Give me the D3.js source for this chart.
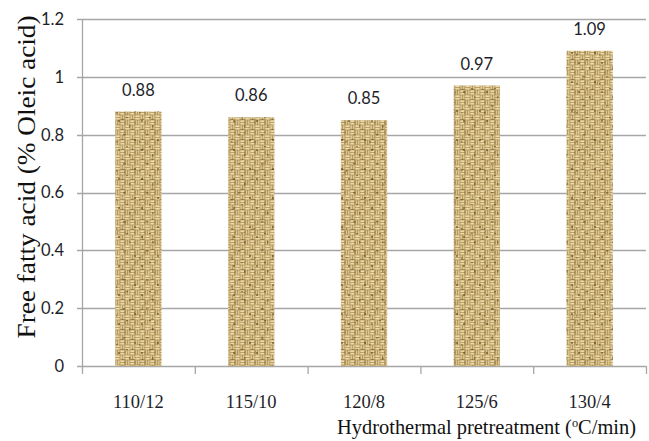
<!DOCTYPE html>
<html>
<head>
<meta charset="utf-8">
<script src="https://cdn.jsdelivr.net/npm/d3@7"></script>
<style>
  html, body { margin: 0; padding: 0; background: #fff; }
  svg { display: block; }
</style>
</head>
<body>
<svg id="chart" width="649" height="441"></svg>
<script>
// Free fatty acid content for each hydrothermal pretreatment condition
const categories = ["110/12", "115/10", "120/8", "125/6", "130/4"];
const ffaValues = [0.88, 0.86, 0.85, 0.97, 1.09];
const valueLabels = ["0.88", "0.86", "0.85", "0.97", "1.09"];
const yTicks = [0, 0.2, 0.4, 0.6, 0.8, 1, 1.2];
const yTickLabels = ["0", "0.2", "0.4", "0.6", "0.8", "1", "1.2"];
const yTitle = "Free fatty acid (% Oleic acid)";

const svg = d3.select("#chart");
const plot = { left: 82, right: 646, top: 19, bottom: 366 };

const x = d3.scaleBand()
  .domain(categories)
  .range([plot.left, plot.right])
  .paddingInner(0.59)
  .paddingOuter(0.295);

const y = d3.scaleLinear()
  .domain([0, 1.2])
  .range([plot.bottom, plot.top]);

// Woven burlap texture for the bars
const defs = svg.append("defs");
const weave = defs.append("pattern")
  .attr("id", "burlap")
  .attr("patternUnits", "userSpaceOnUse")
  .attr("width", 10).attr("height", 10);
weave.append("rect").attr("width", 10).attr("height", 10).attr("fill", "#a88a52");
// horizontal strands in two quadrants, vertical in the other two
[[0, 0], [5, 5]].forEach(([ox, oy]) => {
  [0.3, 2.8].forEach(o => {
    weave.append("rect").attr("x", ox + 0.3).attr("y", oy + o).attr("width", 4.4).attr("height", 1.8).attr("fill", "#ecdba8");
  });
});
[[5, 0], [0, 5]].forEach(([ox, oy]) => {
  [0.3, 2.8].forEach(o => {
    weave.append("rect").attr("x", ox + o).attr("y", oy + 0.3).attr("width", 1.8).attr("height", 4.4).attr("fill", "#dcc58e");
  });
});
weave.append("rect").attr("x", 4.6).attr("y", 0.5).attr("width", 0.8).attr("height", 4).attr("fill", "#6b4f24").attr("opacity", 0.8);
weave.append("rect").attr("x", 0.5).attr("y", 9.4).attr("width", 4).attr("height", 0.7).attr("fill", "#6b4f24").attr("opacity", 0.8);

// irregular dark flecks over a larger repeat
const flecks = defs.append("pattern")
  .attr("id", "flecks")
  .attr("patternUnits", "userSpaceOnUse")
  .attr("width", 23).attr("height", 29);
[[3, 4, 2, 2], [14, 9, 1.5, 2.5], [8, 18, 2.5, 1.5], [19, 23, 2, 2], [1, 25, 1.5, 1.5], [11, 1, 2, 1.2]].forEach(([fx, fy, fw, fh]) => {
  flecks.append("rect").attr("x", fx).attr("y", fy).attr("width", fw).attr("height", fh).attr("fill", "#5e4219").attr("opacity", 0.55);
});

// faint diagonal streaks over the weave
const streaks = defs.append("pattern")
  .attr("id", "streaks")
  .attr("patternUnits", "userSpaceOnUse")
  .attr("width", 34).attr("height", 34)
  .attr("patternTransform", "rotate(-50)");
streaks.append("rect").attr("x", 0).attr("y", 0).attr("width", 34).attr("height", 2).attr("fill", "#6a4f22").attr("opacity", 0.1);
streaks.append("rect").attr("x", 0).attr("y", 17).attr("width", 34).attr("height", 1.5).attr("fill", "#fff2c8").attr("opacity", 0.18);

const gridColor = "#a6a6a6";

// horizontal gridlines, extending left as tick marks
svg.append("g").selectAll("line")
  .data(yTicks)
  .join("line")
  .attr("x1", plot.left - 5)
  .attr("x2", plot.right)
  .attr("y1", d => Math.round(y(d)) + 0.5)
  .attr("y2", d => Math.round(y(d)) + 0.5)
  .attr("stroke", gridColor)
  .attr("stroke-width", 1.3);

// y axis line
svg.append("line")
  .attr("x1", plot.left + 0.5).attr("x2", plot.left + 0.5)
  .attr("y1", y(1.2)).attr("y2", plot.bottom + 0.5)
  .attr("stroke", gridColor).attr("stroke-width", 1.3);

// category boundary ticks below the x axis
svg.append("g").selectAll("line")
  .data(d3.range(categories.length + 1))
  .join("line")
  .attr("x1", i => plot.left + i * x.step() + 0.5)
  .attr("x2", i => plot.left + i * x.step() + 0.5)
  .attr("y1", plot.bottom)
  .attr("y2", plot.bottom + 8)
  .attr("stroke", gridColor).attr("stroke-width", 1.3);

// bars, drawn as stacked texture layers
const bars = svg.append("g");
["url(#burlap)", "url(#flecks)", "url(#streaks)"].forEach((fill, k) => {
  bars.selectAll("rect.layer" + k)
    .data(ffaValues)
    .join("rect")
    .attr("class", "layer" + k)
    .attr("x", (d, i) => x(categories[i]))
    .attr("width", x.bandwidth())
    .attr("y", d => y(d))
    .attr("height", d => y(0) - y(d))
    .attr("fill", fill);
});

// value labels above the bars
svg.append("g").selectAll("text")
  .data(ffaValues)
  .join("text")
  .attr("x", (d, i) => x(categories[i]) + x.bandwidth() / 2)
  .attr("y", d => y(d) - 16)
  .attr("text-anchor", "middle")
  .attr("font-family", "Lato, 'Liberation Sans', sans-serif")
  .attr("font-size", 16.5)
  .attr("fill", "#1e1e2a")
  .text((d, i) => valueLabels[i]);

// y tick labels
svg.append("g").selectAll("text")
  .data(yTicks)
  .join("text")
  .attr("x", 64)
  .attr("y", d => y(d))
  .attr("dy", "0.36em")
  .attr("text-anchor", "end")
  .attr("font-family", "Lato, 'Liberation Sans', sans-serif")
  .attr("font-size", 16.5)
  .attr("fill", "#1e1e2a")
  .text((d, i) => yTickLabels[i]);

// category labels
svg.append("g").selectAll("text")
  .data(categories)
  .join("text")
  .attr("x", d => x(d) + x.bandwidth() / 2)
  .attr("y", 408)
  .attr("text-anchor", "middle")
  .attr("font-family", "'Liberation Serif', 'Times New Roman', serif")
  .attr("font-size", 18.5)
  .attr("fill", "#1e1e2a")
  .text(d => d);

// x axis title with superscript degree mark
const xTitle = svg.append("text")
  .attr("x", 337)
  .attr("y", 434)
  .attr("font-family", "'Liberation Serif', 'Times New Roman', serif")
  .attr("font-size", 21.5)
  .attr("fill", "#111")
  .attr("textLength", 299)
  .attr("lengthAdjust", "spacingAndGlyphs");
xTitle.append("tspan").text("Hydrothermal pretreatment (");
xTitle.append("tspan").attr("font-size", 13).attr("dy", -7).text("o");
xTitle.append("tspan").attr("dy", 7).text("C/min)");

// y axis title
svg.append("text")
  .attr("transform", "translate(35,177) rotate(-90)")
  .attr("text-anchor", "middle")
  .attr("font-family", "'Liberation Serif', 'Times New Roman', serif")
  .attr("font-size", 25)
  .attr("fill", "#111")
  .attr("textLength", 323)
  .attr("lengthAdjust", "spacingAndGlyphs")
  .text(yTitle);
</script>
</body>
</html>
